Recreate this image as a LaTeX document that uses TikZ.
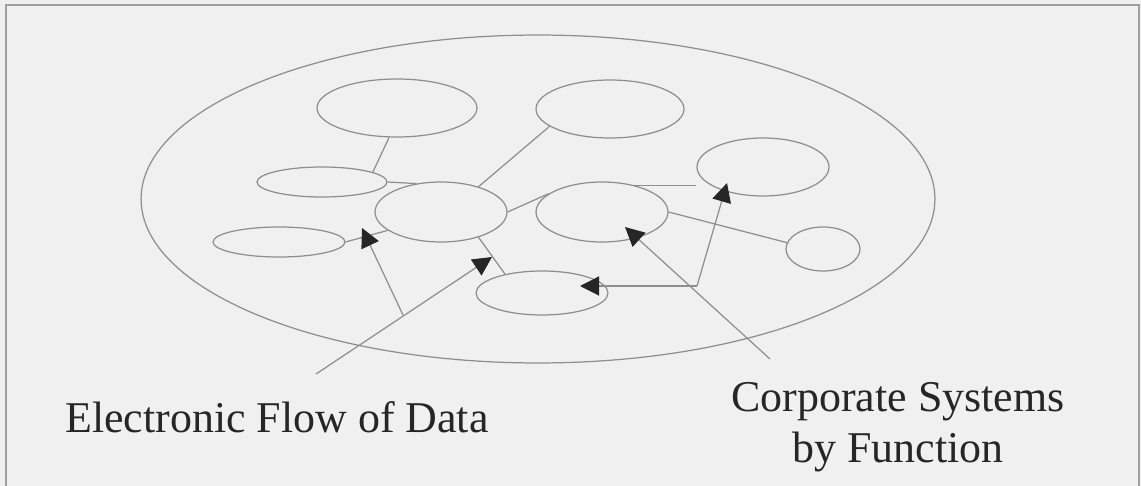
\documentclass[tikz,border=0pt]{standalone}
\usepackage{fontspec}
\setmainfont{Liberation Serif}
\usetikzlibrary{shapes.geometric,arrows.meta}
\definecolor{paper}{HTML}{F0F0F0}
\definecolor{linegray}{HTML}{8E8E8E}
\definecolor{framegray}{HTML}{A0A0A0}
\definecolor{ink}{HTML}{262626}
\begin{document}
\begin{tikzpicture}[x=0.02cm, y=-0.02cm,
    sys/.style = {draw=linegray, ellipse, inner sep=0pt, line width=0.7pt},
    link/.style = {draw=linegray, line width=0.7pt},
    flow/.style = {link, -{Triangle[length=0.38cm, width=0.38cm, color=ink]}},
    lbl/.style = {font=\fontsize{25}{28.5}\selectfont, text=ink, inner sep=0pt, align=center}]
        \fill[paper] (0,0) rectangle (1141,486);
        \useasboundingbox (0,0) rectangle (1141,486);
        \draw[framegray, line width=1pt] (6,486) -- (6,5) -- (1139,5) -- (1139,486);
        %
        \node[sys, minimum width=15.88cm, minimum height=6.56cm] (all) at (538,199) {};
        \node[sys, minimum width=3.2cm, minimum height=1.16cm] (a) at (397,108) {};
        \node[sys, minimum width=2.6cm, minimum height=0.6cm] (b) at (322,182) {};
        \node[sys, minimum width=2.64cm, minimum height=1.2cm] (c) at (441,212) {};
        \node[sys, minimum width=2.64cm, minimum height=0.6cm] (d) at (279,242) {};
        \node[sys, minimum width=2.96cm, minimum height=1.16cm] (e) at (610,109) {};
        \node[sys, minimum width=2.64cm, minimum height=1.16cm] (f) at (763,167) {};
        \node[sys, minimum width=2.64cm, minimum height=1.2cm] (g) at (602,212) {};
        \node[sys, minimum width=1.48cm, minimum height=0.88cm] (h) at (823,249) {};
        \node[sys, minimum width=2.64cm, minimum height=0.88cm] (i) at (542,293) {};
        %
        \draw[link] (a.255) -- (b.11);
        \draw[link] (b.east) -- (c.131);
        \draw[link] (d.east) -- (c.199);
        \draw[link] (c.34) -- (e.196);
        \draw[link] (c.east) -- (g.161);
        \draw[link] (g.40) -- (g.40 -| f.west);
        \draw[link] (g.east) -- (h.170);
        \draw[link] (c.-34) -- (i.153);
        %
        \node[lbl, anchor=base] (elabel) at (277,432) {Electronic Flow of Data};
        \node[lbl, anchor=base] (clabel) at (898,462) {Corporate Systems\\by Function};
        %
        \coordinate (efrom) at (316,374);
        \coordinate (efork) at (403,315);
        \coordinate (eto) at (492,257);
        \coordinate (eup) at (362,228);
        \draw[flow] (efrom) -- (eto);
        \draw[flow] (efork) -- (eup);
        %
        \coordinate (cfrom) at (770,359);
        \coordinate (cfork) at (697,286);
        \coordinate (cto) at (625,227);
        \coordinate (cleft) at (580,286);
        \coordinate (cup) at (727,183);
        \draw[flow] (cfrom) -- (cto);
        \draw[flow] (cfork) -- (cleft);
        \draw[flow] (cfork) -- (cup);
      \end{tikzpicture}
\end{document}
